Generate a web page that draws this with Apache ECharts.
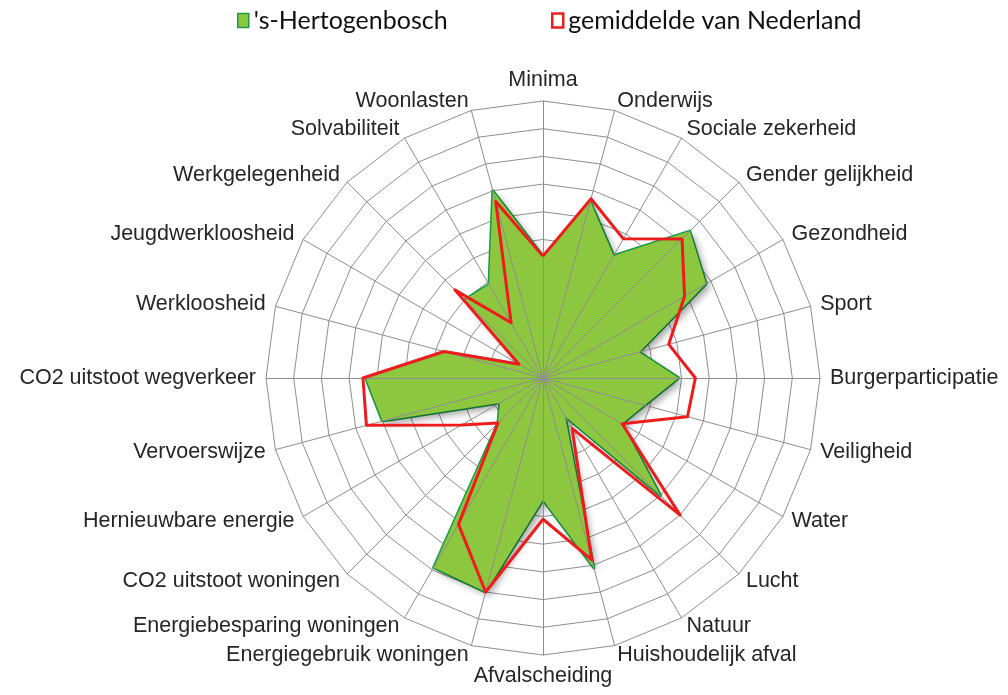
<!DOCTYPE html>
<html>
<head>
<meta charset="utf-8">
<script src="https://cdn.jsdelivr.net/npm/echarts@6/dist/echarts.min.js"></script>
<style>
  html, body { margin: 0; padding: 0; background: #fff; }
  #chart { width: 1008px; height: 695px; }
</style>
</head>
<body>
<div id="chart"></div>
<script>
// categories clockwise, starting at the top
const categories = [
  'Minima', 'Onderwijs', 'Sociale zekerheid', 'Gender gelijkheid', 'Gezondheid', 'Sport',
  'Burgerparticipatie', 'Veiligheid', 'Water', 'Lucht', 'Natuur', 'Huishoudelijk afval',
  'Afvalscheiding', 'Energiegebruik woningen', 'Energiebesparing woningen', 'CO2 uitstoot woningen',
  'Hernieuwbare energie', 'Vervoerswijze', 'CO2 uitstoot wegverkeer', 'Werkloosheid',
  'Jeugdwerkloosheid', 'Werkgelegenheid', 'Solvabiliteit', 'Woonlasten'
]
const denBosch = [4.4, 6.6, 5.1, 7.5, 6.8, 3.6, 4.9, 3.8, 3.3, 6.0, 1.6, 7.1,
  4.4, 8.0, 7.9, 2.3, 1.8, 6.0, 6.4, 3.6, 1.0, 4.0, 3.9, 7.0]
const nederland = [4.4, 6.7, 5.8, 7.1, 5.9, 4.7, 5.5, 5.4, 3.3, 7.0, 2.1, 6.8,
  5.1, 8.0, 6.1, 2.3, 3.4, 6.6, 6.5, 3.7, 1.0, 4.5, 2.3, 6.6]
const maxValue = 10
const rings = 10

// echarts lays indicators out counter-clockwise, so flip the order after the first one
const order = [0].concat(categories.slice(1).map((_, i) => categories.length - 1 - i))
const pick = arr => order.map(i => arr[i])
const indicator = pick(categories).map(name => ({ name, max: maxValue, min: 0 }))

const center = [543, 378]
const radius = 277
const gridColor = '#8e8e8e'

const chart = echarts.init(document.getElementById('chart'))
chart.setOption({
  animation: false,
  backgroundColor: '#fff',
  legend: [
    {
      left: 232, top: 3,
      icon: 'rect', itemWidth: 11, itemHeight: 14,
      textStyle: { fontFamily: 'Lato', fontSize: 25, color: '#111' },
      data: [{ name: "'s-Hertogenbosch", itemStyle: { color: '#8dc63f', borderColor: '#1e9a46', borderWidth: 1.5 } }]
    },
    {
      left: 546, top: 3,
      icon: 'rect', itemWidth: 11, itemHeight: 14,
      textStyle: { fontFamily: 'Lato', fontSize: 25, color: '#111' },
      data: [{ name: 'gemiddelde van Nederland', itemStyle: { color: '#fff', borderColor: '#ee1c1c', borderWidth: 2.5 } }]
    }
  ],
  radar: [
    {
      center, radius,
      shape: 'polygon',
      splitNumber: rings,
      indicator,
      axisNameGap: 10,
      axisName: { color: '#262626', fontFamily: 'Liberation Sans', fontSize: 21.5 },
      splitLine: { lineStyle: { color: gridColor, width: 1 } },
      splitArea: { show: false },
      axisLine: { show: false }
    },
    {
      // spokes drawn on top of the filled area
      center, radius,
      shape: 'polygon',
      splitNumber: rings,
      indicator,
      z: 3,
      axisName: { show: false },
      splitLine: { show: false },
      splitArea: { show: false },
      axisLine: { lineStyle: { color: gridColor, width: 1 } }
    }
  ],
  series: [
    {
      type: 'radar',
      radarIndex: 0,
      z: 2,
      symbol: 'none',
      data: [{
        name: "'s-Hertogenbosch",
        value: pick(denBosch),
        lineStyle: { color: '#14a04a', width: 3 },
        areaStyle: {
          color: '#8dc63f', opacity: 1,
          shadowColor: 'rgba(0,0,0,0.35)', shadowBlur: 7, shadowOffsetX: 4, shadowOffsetY: 4
        },
        itemStyle: { color: '#8dc63f' }
      }]
    },
    {
      type: 'radar',
      radarIndex: 0,
      z: 4,
      symbol: 'none',
      data: [{
        name: 'gemiddelde van Nederland',
        value: pick(nederland),
        lineStyle: { color: '#ee1c1c', width: 3 },
        itemStyle: { color: '#ee1c1c' }
      }]
    }
  ]
})
</script>
</body>
</html>
